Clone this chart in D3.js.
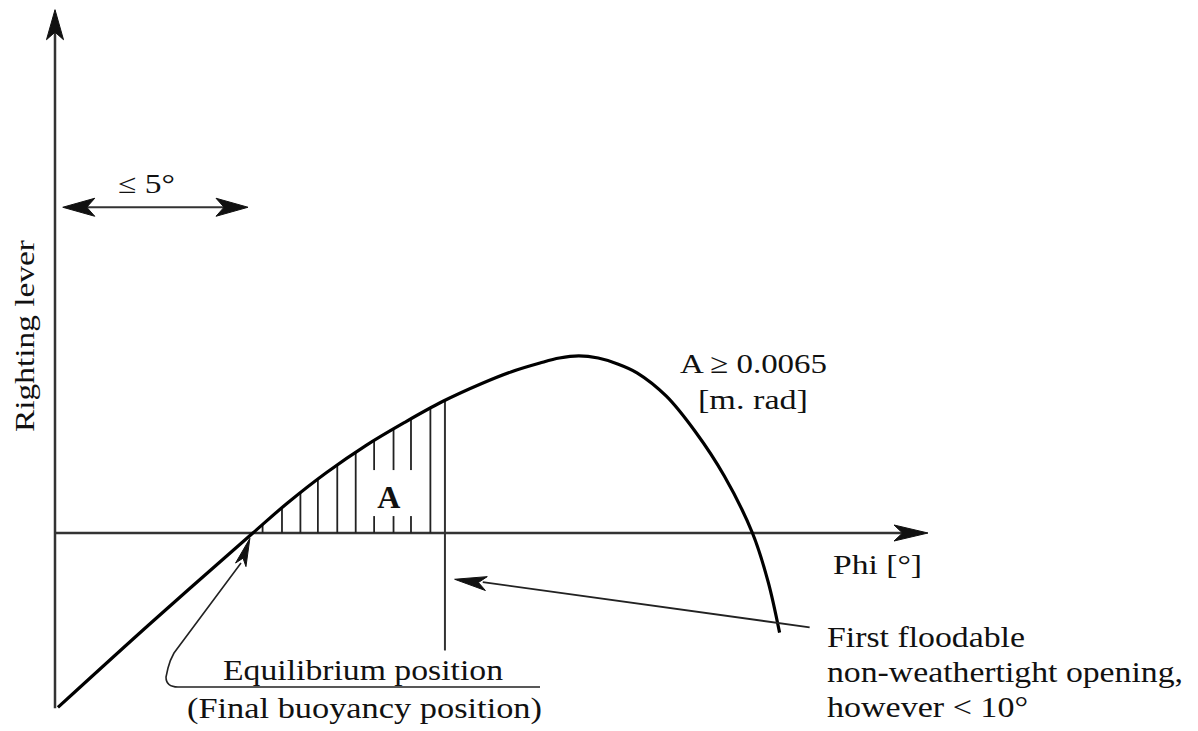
<!DOCTYPE html>
<html>
<head>
<meta charset="utf-8">
<script src="https://cdn.jsdelivr.net/npm/d3@7/dist/d3.min.js"></script>
<style>
  html, body { margin: 0; padding: 0; background: #fff; }
  svg { display: block; }
  text { font-family: "Liberation Serif", "Times New Roman", Times, serif; fill: #111; }
</style>
</head>
<body>
<svg id="chart" width="1198" height="731"></svg>
<script>
// ---- data ----
const phiDeg = [0.3, 10.0, 20.4, 24.0, 28.0, 32.0, 36.0, 40.0, 44.0, 47.0, 50.0, 52.0, 54.0, 56.0, 58.0, 60.0, 63.0, 66.0, 69.0, 71.9, 73.5, 74.7];
const lever  = [-0.98, -0.50, 0.0, 0.17, 0.34, 0.49, 0.62, 0.74, 0.84, 0.905, 0.955, 0.983, 0.995, 0.983, 0.95, 0.90, 0.77, 0.57, 0.32, 0.0, -0.27, -0.56];
const hatchPhi = [21.4, 23.4, 25.3, 27.1, 29.1, 31.0, 32.9, 34.9, 36.7, 38.7];
const openingPhi = 40.2;
const equilibriumPhi = 20.4;
const axisLabels = { y: "Righting lever", x: "Phi [°]" };
const heelLimitLabel = "≤ 5°";
const areaLabel = "A";
const areaReqLines = ["A ≥ 0.0065", "[m. rad]"];
const openingLines = ["First floodable", "non-weathertight opening,", "however < 10°"];
const equilibriumLines = ["Equilibrium position", "(Final buoyancy position)"];

// ---- scales ----
const svg = d3.select("#chart");
const x = d3.scaleLinear().domain([0, 90]).range([55, 928]);
const y = d3.scaleLinear().domain([-1, 3]).range([711, -1]);

const interpLever = p => {
  const i = d3.bisectLeft(phiDeg, p);
  if (i <= 0) return lever[0];
  if (i >= phiDeg.length) return lever[lever.length - 1];
  const t = (p - phiDeg[i - 1]) / (phiDeg[i] - phiDeg[i - 1]);
  return lever[i - 1] + t * (lever[i] - lever[i - 1]);
};

function arrowHead(g, tip, from, len, wid) {
  const dx = tip[0] - from[0], dy = tip[1] - from[1];
  const L = Math.hypot(dx, dy), ux = dx / L, uy = dy / L;
  const bx = tip[0] - ux * len, by = tip[1] - uy * len;
  const nx = -uy * wid / 2, ny = ux * wid / 2;
  g.append("path")
    .attr("d", `M${tip[0]},${tip[1]}L${bx + nx},${by + ny}L${tip[0] - ux * len * 0.75},${tip[1] - uy * len * 0.75}L${bx - nx},${by - ny}Z`)
    .attr("fill", "#111").attr("stroke", "#111").attr("stroke-width", 1);
}

// ---- axes ----
const axes = svg.append("g");
const y0 = y(0), xOrig = x(0);
axes.append("line").attr("x1", xOrig).attr("x2", xOrig).attr("y1", y(-0.985)).attr("y2", y(2.85))
  .attr("stroke", "#333").attr("stroke-width", 2.5);
arrowHead(axes, [xOrig, y(2.94)], [xOrig, y(2.0)], 30, 17);
axes.append("line").attr("x1", xOrig).attr("x2", x(89)).attr("y1", y0).attr("y2", y0)
  .attr("stroke", "#333").attr("stroke-width", 2.5);
arrowHead(axes, [x(90), y0], [x(80), y0], 34, 16);

// ---- the righting lever curve ----
const line = d3.line().x((d, i) => x(phiDeg[i])).y(d => y(d)).curve(d3.curveCatmullRom.alpha(0.5));

// ---- hatching of area A ----
const hatch = svg.append("g");
hatch.selectAll("line").data(hatchPhi).join("line")
  .attr("x1", d => x(d)).attr("x2", d => x(d))
  .attr("y1", y0).attr("y2", d => y(interpLever(d)))
  .attr("stroke", "#222").attr("stroke-width", 1.8);

// white gap behind label A
const aX = x(34.4), aY = y(0.14);
hatch.append("rect").attr("x", aX - 24).attr("y", aY - 38).attr("width", 48).attr("height", 46).attr("fill", "#fff");
svg.append("text").attr("x", aX).attr("y", aY).attr("text-anchor", "middle")
  .attr("font-size", 32).attr("font-weight", "bold").text(areaLabel);

// opening vertical line
svg.append("line").attr("x1", x(openingPhi)).attr("x2", x(openingPhi))
  .attr("y1", y(interpLever(openingPhi))).attr("y2", y(-0.66))
  .attr("stroke", "#333").attr("stroke-width", 2);

svg.append("path").datum(lever).attr("d", line)
  .attr("fill", "none").attr("stroke", "#000").attr("stroke-width", 3.2).attr("stroke-linejoin", "round");

// ---- heel limit double arrow ----
const ha = svg.append("g");
const haY = y(1.83), haX1 = x(0.8), haX2 = x(19.9);
ha.append("line").attr("x1", haX1 + 20).attr("x2", haX2 - 20).attr("y1", haY).attr("y2", haY)
  .attr("stroke", "#333").attr("stroke-width", 2);
arrowHead(ha, [haX1, haY], [haX2, haY], 32, 18);
arrowHead(ha, [haX2, haY], [haX1, haY], 32, 18);
svg.append("text").attr("x", 118).attr("y", 193).attr("font-size", 27)
  .attr("textLength", 57).attr("lengthAdjust", "spacingAndGlyphs").text(heelLimitLabel);

// ---- axis labels ----
svg.append("text").attr("transform", "translate(34,336) rotate(-90)")
  .attr("text-anchor", "middle").attr("font-size", 28)
  .attr("textLength", 192).attr("lengthAdjust", "spacingAndGlyphs").text(axisLabels.y);
svg.append("text").attr("x", 833).attr("y", 574).attr("font-size", 28)
  .attr("textLength", 89).attr("lengthAdjust", "spacingAndGlyphs").text(axisLabels.x);

// ---- area requirement ----
svg.append("text").attr("x", 680).attr("y", 373).attr("font-size", 28)
  .attr("textLength", 147).attr("lengthAdjust", "spacingAndGlyphs").text(areaReqLines[0]);
svg.append("text").attr("x", 698).attr("y", 409).attr("font-size", 28)
  .attr("textLength", 110).attr("lengthAdjust", "spacingAndGlyphs").text(areaReqLines[1]);

// ---- opening annotation ----
const opTip = [x(41.2), y(-0.26)];
const opTail = [x(77.8), y(-0.53)];
const opBase = [x(44.1), y(-0.276)];
svg.append("line").attr("x1", opTail[0]).attr("y1", opTail[1]).attr("x2", opBase[0]).attr("y2", opBase[1])
  .attr("stroke", "#222").attr("stroke-width", 1.8);
arrowHead(svg, opTip, opTail, 32, 14);
const opWidths = [198, 356, 201];
openingLines.forEach((t, i) => {
  svg.append("text").attr("x", 827).attr("y", 647 + i * 35).attr("font-size", 29)
    .attr("textLength", opWidths[i]).attr("lengthAdjust", "spacingAndGlyphs").text(t);
});

// ---- equilibrium annotation ----
const eqTip = [x(equilibriumPhi) - 3, y(-0.03)];
const uY = 687;
svg.append("path")
  .attr("d", `M540,${uY}L178,${uY}Q166,${uY} 166,677L168,668Q170,660 174,653L241,563`)
  .attr("fill", "none").attr("stroke", "#222").attr("stroke-width", 1.6);
arrowHead(svg, eqTip, [240, 567], 28, 11);
svg.append("text").attr("x", 223).attr("y", 680).attr("font-size", 29)
  .attr("textLength", 280).attr("lengthAdjust", "spacingAndGlyphs").text(equilibriumLines[0]);
svg.append("text").attr("x", 187).attr("y", 718).attr("font-size", 29)
  .attr("textLength", 355).attr("lengthAdjust", "spacingAndGlyphs").text(equilibriumLines[1]);
</script>
</body>
</html>
